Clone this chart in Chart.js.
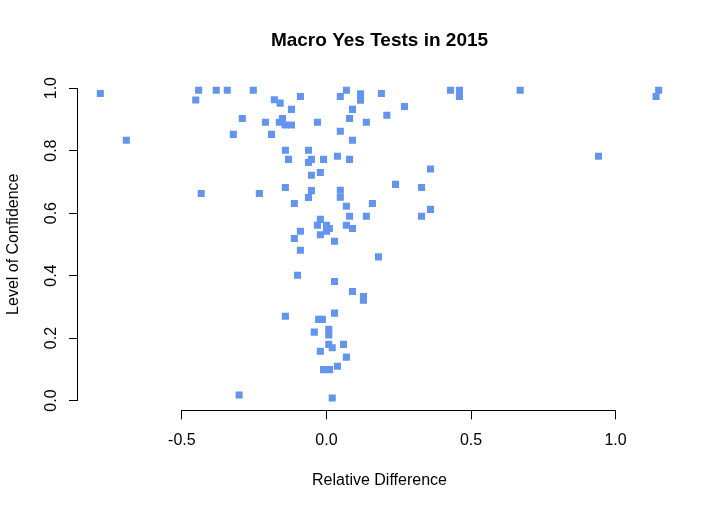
<!DOCTYPE html>
<html>
<head>
<meta charset="utf-8">
<script src="https://cdn.jsdelivr.net/npm/chart.js@4"></script>
<style>
  html, body { margin: 0; padding: 0; background: #fff; }
  #wrap { width: 722px; height: 509px; }
</style>
</head>
<body>
<div id="wrap"><canvas id="grafica"></canvas></div>
<script>
// diferencia relativa (eje x) y nivel de confianza (eje y), un punto por prueba
const relDiff = [
  -0.782, -0.442, -0.452, -0.381, -0.343, -0.253, -0.180, -0.160, -0.291, -0.211,
  -0.322, -0.190, -0.692, -0.433, -0.232, -0.090, -0.121, -0.152, -0.163, -0.143,
  -0.121, -0.031, 0.069, 0.048, 0.118, 0.118, 0.190, 0.090, 0.080, 0.138,
  0.209, 0.270, 0.429, 0.460, 0.460, 0.670, 1.149, 1.140, 0.048, 0.090,
  -0.142, -0.062, -0.131, -0.052, -0.062, -0.010, 0.038, 0.080, -0.052, -0.021,
  0.360, -0.142, -0.052, -0.062, 0.048, 0.048, 0.239, 0.329, 0.941, -0.111,
  0.069, 0.159, 0.360, 0.080, 0.138, 0.329, -0.021, -0.031, 0.000, 0.010,
  0.000, 0.069, 0.090, -0.021, -0.090, -0.111, 0.028, -0.090, 0.180, -0.100,
  0.028, 0.090, 0.128, 0.128, -0.142, 0.028, -0.027, -0.014, -0.042, 0.008,
  0.008, 0.008, 0.020, 0.059, -0.021, 0.069, 0.038, -0.010, 0.011, 0.020, -0.302,
];
const confidence = [
  0.983, 0.993, 0.962, 0.993, 0.993, 0.993, 0.963, 0.952, 0.903, 0.891,
  0.852, 0.852, 0.833, 0.663, 0.663, 0.973, 0.932, 0.903, 0.891, 0.882,
  0.882, 0.891, 0.993, 0.973, 0.982, 0.961, 0.983, 0.932, 0.903, 0.891,
  0.913, 0.941, 0.993, 0.993, 0.973, 0.993, 0.993, 0.973, 0.862, 0.833,
  0.801, 0.801, 0.772, 0.772, 0.762, 0.772, 0.782, 0.772, 0.721, 0.730,
  0.741, 0.682, 0.672, 0.650, 0.673, 0.651, 0.692, 0.682, 0.782, 0.631,
  0.622, 0.631, 0.612, 0.590, 0.590, 0.590, 0.580, 0.561, 0.561, 0.551,
  0.542, 0.561, 0.551, 0.531, 0.542, 0.519, 0.510, 0.481, 0.460, 0.401,
  0.381, 0.349, 0.333, 0.321, 0.270, 0.280, 0.260, 0.260, 0.219, 0.228,
  0.210, 0.180, 0.169, 0.180, 0.158, 0.139, 0.110, 0.099, 0.099, 0.008, 0.018,
];
const xTicks = [-0.5, 0.0, 0.5, 1.0];
const yTicks = [0.0, 0.2, 0.4, 0.6, 0.8, 1.0];

const FONT = "'Liberation Sans', Arial, sans-serif";

// rango como en R: datos +/- 4%
function rRange(arr) {
  const lo = Math.min(...arr), hi = Math.max(...arr);
  const d = (hi - lo) * 0.04;
  return [lo - d, hi + d];
}
const [xMin, xMax] = rRange(relDiff);
const [yMin, yMax] = rRange(confidence);

// linea del eje solo entre el primer y ultimo tick (estilo R)
const ejesR = {
  id: "ejesR",
  afterDraw(chart) {
    const { ctx, scales } = chart;
    const x = scales.x, y = scales.y;
    ctx.save();
    ctx.strokeStyle = "#000";
    ctx.lineWidth = 1;
    ctx.beginPath();
    const yx = Math.round(x.top) + 0.5;
    ctx.moveTo(x.getPixelForValue(xTicks[0]), yx);
    ctx.lineTo(x.getPixelForValue(xTicks[xTicks.length - 1]), yx);
    const xy = Math.round(y.right) - 0.5;
    ctx.moveTo(xy, y.getPixelForValue(yTicks[0]));
    ctx.lineTo(xy, y.getPixelForValue(yTicks[yTicks.length - 1]));
    ctx.stroke();
    ctx.restore();
  },
};

new Chart(document.getElementById("grafica"), {
  type: "scatter",
  data: {
    datasets: [
      {
        label: "Macro Yes",
        data: relDiff.map((v, i) => ({ x: v, y: confidence[i] })),
        pointStyle: "rect",
        pointRadius: 5,
        pointHoverRadius: 5,
        borderWidth: 0,
        backgroundColor: "#6495ED",
      },
    ],
  },
  options: {
    responsive: true,
    maintainAspectRatio: false,
    animation: false,
    layout: { padding: { left: 0, right: 41, top: 0, bottom: 0 } },
    scales: {
      x: {
        type: "linear",
        min: xMin,
        max: xMax,
        afterBuildTicks: (s) => { s.ticks = xTicks.map((v) => ({ value: v })); },
        afterFit: (s) => { s.height = 98.6; },
        grid: { drawOnChartArea: false, tickLength: 9, color: "#000" },
        border: { display: false },
        ticks: {
          color: "#000",
          padding: 12,
          maxRotation: 0,
          font: { family: FONT, size: 16 },
          callback: (v) => v.toFixed(1),
        },
        title: {
          display: true,
          text: "Relative Difference",
          color: "#000",
          font: { family: FONT, size: 16 },
          padding: { top: 0, bottom: 19 },
        },
      },
      y: {
        type: "linear",
        min: yMin,
        max: yMax,
        afterBuildTicks: (s) => { s.ticks = yTicks.map((v) => ({ value: v })); },
        afterFit: (s) => { s.width = 78; },
        grid: { drawOnChartArea: false, tickLength: 9, color: "#000" },
        border: { display: false },
        ticks: {
          color: "#000",
          padding: 6,
          minRotation: 90,
          maxRotation: 90,
          crossAlign: "center",
          font: { family: FONT, size: 16 },
          callback: (v) => v.toFixed(1),
        },
        title: {
          display: true,
          text: "Level of Confidence",
          color: "#000",
          font: { family: FONT, size: 16 },
          padding: { top: 4, bottom: 0 },
        },
      },
    },
    plugins: {
      legend: { display: false },
      tooltip: { enabled: false },
      title: {
        display: true,
        fullSize: false,
        text: "Macro Yes Tests in 2015",
        color: "#000",
        font: { family: FONT, size: 19, weight: "bold" },
        padding: { top: 29.6, bottom: 25.6 },
      },
    },
  },
  plugins: [ejesR],
});
</script>
</body>
</html>
